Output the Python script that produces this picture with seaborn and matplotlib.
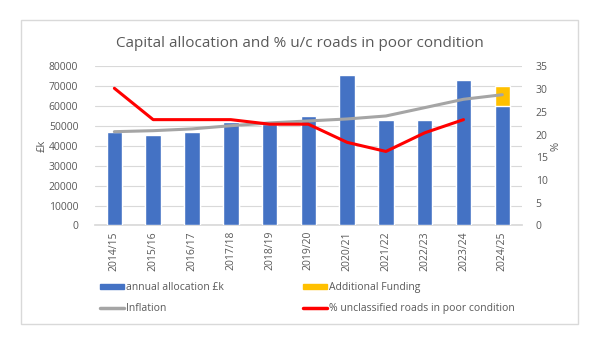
import numpy as np
import pandas as pd
import matplotlib
matplotlib.use("Agg")
import matplotlib.pyplot as plt
from matplotlib.patches import Rectangle, Patch
from matplotlib.lines import Line2D
import seaborn as sns

years = ["2014/15", "2015/16", "2016/17", "2017/18", "2018/19", "2019/20",
         "2020/21", "2021/22", "2022/23", "2023/24", "2024/25"]
annual_allocation = [47000, 45500, 47000, 52000, 51000, 55000,
                     75500, 53300, 53300, 73300, 60000]
additional_funding = [0, 0, 0, 0, 0, 0, 0, 0, 0, 0, 10000]
inflation = [47200, 47700, 48600, 50200, 51600, 52600,
             53600, 55100, 59300, 63500, 65800]
pct_poor = [30.2, 23.3, 23.3, 23.3, 22.3, 22.3, 18.3, 16.3, 20.4, 23.3, np.nan]

BLUE = "#4472C4"
ORANGE = "#FFC000"
GREY = "#A5A5A5"
RED = "#FF0000"
TXT = "#595959"
GRID = "#D9D9D9"

sns.set_theme(style="white")
plt.rcParams["font.family"] = ["Open Sans", "DejaVu Sans"]

df = pd.DataFrame({
    "year": years,
    "allocation": annual_allocation,
    "total": np.add(annual_allocation, additional_funding),
    "inflation": inflation,
    "pct": pct_poor,
})
df["pos"] = np.arange(len(years))

fig = plt.figure(figsize=(6.0, 3.37), dpi=100)
ax = fig.add_axes([0.1583, 0.3309, 0.7112, 0.4718])

# stacked bars: total (with additional funding) behind, allocation in front
sns.barplot(data=df, x="year", y="total", color=ORANGE, saturation=1,
            width=0.4, ax=ax, zorder=2)
sns.barplot(data=df, x="year", y="allocation", color=BLUE, saturation=1,
            width=0.4, ax=ax, zorder=3)

sns.lineplot(data=df, x="pos", y="inflation", color=GREY, lw=2.2, ax=ax,
             zorder=4)

ax.set_ylim(0, 80000)
ax.set_yticks(np.arange(0, 80001, 10000))
ax.set_xlim(-0.5, len(years) - 0.5)
ax.set_xticks(np.arange(len(years)))
ax.set_xticklabels(years, rotation=90)
ax.set_xticks(np.arange(-0.5, len(years)), minor=True)
ax.grid(axis="y", color=GRID, lw=0.8, zorder=0)
ax.set_axisbelow(True)
ax.tick_params(axis="x", which="major", length=0, pad=4, labelsize=7.5,
               labelcolor=TXT)
ax.tick_params(axis="x", which="minor", length=4, color=GRID, width=0.8)
ax.tick_params(axis="y", length=0, pad=12, labelsize=7.5, labelcolor=TXT)
for s in ["top", "right", "left"]:
    ax.spines[s].set_visible(False)
ax.spines["bottom"].set_color(GRID)
ax.set_xlabel("")
ax.set_ylabel("£k", color=TXT, fontsize=8, labelpad=1)

ax2 = ax.twinx()
sns.lineplot(data=df, x="pos", y="pct", color=RED, lw=2.2, ax=ax2, zorder=5)
ax2.set_ylim(0, 35)
ax2.set_yticks(np.arange(0, 36, 5))
ax2.tick_params(axis="y", length=0, pad=10, labelsize=7.5, labelcolor=TXT)
for s in ["top", "right", "left", "bottom"]:
    ax2.spines[s].set_visible(False)
ax2.set_ylabel("%", color=TXT, fontsize=8, labelpad=2)
ax2.set_xlim(-0.5, len(years) - 0.5)

fig.text(0.5, 0.87, "Capital allocation and % u/c roads in poor condition",
         ha="center", va="center", fontsize=11, color=TXT)

handles = [
    Patch(color=BLUE, label="annual allocation £k"),
    Line2D([], [], color=GREY, lw=2.5, label="Inflation"),
    Patch(color=ORANGE, label="Additional Funding"),
    Line2D([], [], color=RED, lw=2.5, label="% unclassified roads in poor condition"),
]
fig.legend(handles=handles, ncol=2, loc="upper left",
           bbox_to_anchor=(0.167, 0.163), frameon=False, fontsize=7.5,
           labelcolor=TXT, handlelength=2.3, handleheight=0.45,
           handletextpad=0.2, columnspacing=7.6, labelspacing=0.95,
           borderaxespad=0, borderpad=0)

fig.patches.append(Rectangle((0.035, 0.0386), 0.928, 0.902,
                             transform=fig.transFigure, fill=False,
                             edgecolor=GRID, lw=1))

fig.savefig("out.png", dpi=100)
